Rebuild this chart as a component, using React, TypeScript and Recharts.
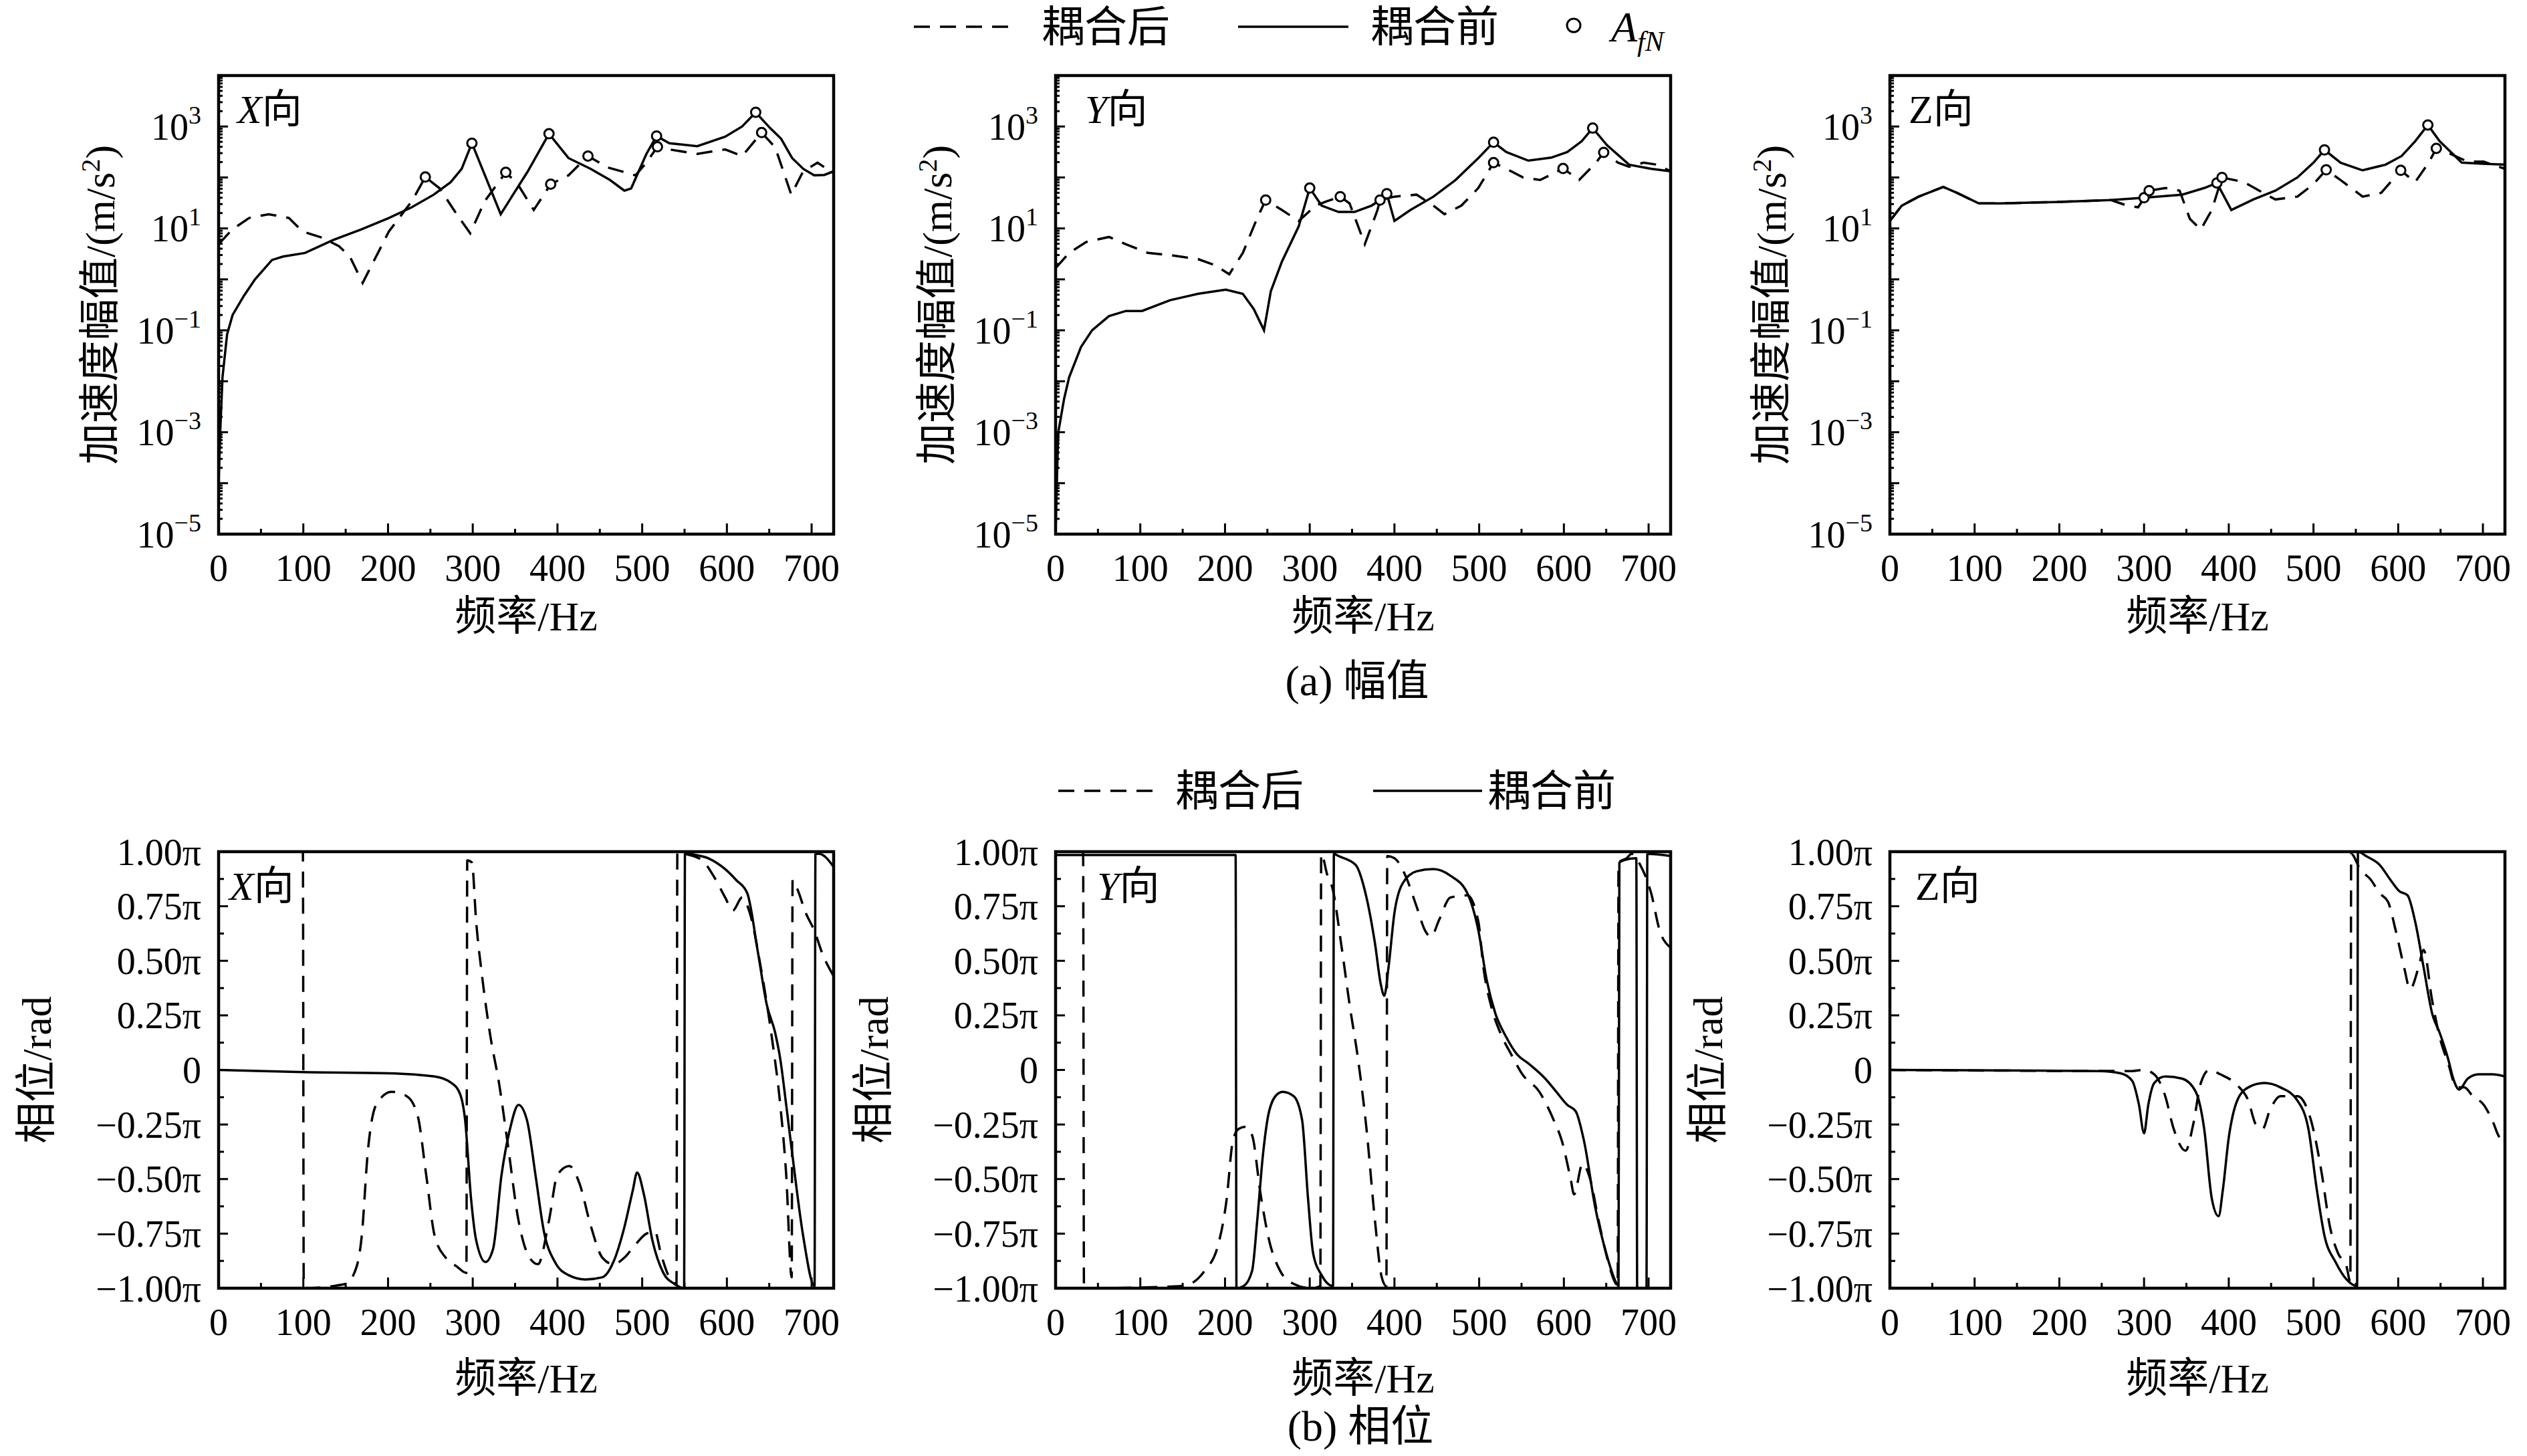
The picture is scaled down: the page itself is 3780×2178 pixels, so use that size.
import { ComposedChart, Line, Scatter, XAxis, YAxis, ReferenceArea } from 'recharts';

const FONT = "'Liberation Serif', 'Times New Roman', 'Noto Sans CJK SC', serif";

// page layout (px)
const COLS = [327, 1579, 2827];
const PLOT_W = 920;
const AMP_TOP = 113;
const AMP_H = 686;
const PH_TOP = 1274;
const PH_H = 653;
const PAD_L = 320;
const PAD_T = 60;
const PAD_R = 30;
const PAD_B = 180;
const F_MAX = 726;

// ticks
const freqTicks = [0, 50, 100, 150, 200, 250, 300, 350, 400, 450, 500, 550, 600, 650, 700];
const decades = [-5, -4, -3, -2, -1, 0, 1, 2, 3, 4];
const ampLabelExps = [-5, -3, -1, 1, 3];
const ampTicks = decades.flatMap((e) => (e === 4 ? [1e4] : [1, 2, 3, 4, 5, 6, 7, 8, 9].map((m) => m * 10 ** e)));
const phaseTicks = [-1, -0.875, -0.75, -0.625, -0.5, -0.375, -0.25, -0.125, 0, 0.125, 0.25, 0.375, 0.5, 0.625, 0.75, 0.875, 1];

// amplitude, m/s^2  [freq Hz, value]
const xAmpBefore = [
  [0, 1e-4], [2, 0.0011], [4.6, 0.012], [10, 0.083], [16.5, 0.2], [30, 0.48], [43, 1.0], [63, 2.4], [76, 2.8],
  [102, 3.3], [135, 5.9], [168, 9.5], [201, 16], [228, 26], [254, 46], [274, 81], [287, 148], [299, 470],
  [333, 19], [365, 132], [390, 720], [413, 240], [439, 148], [462, 89], [479, 55], [487, 61], [505, 290],
  [517, 650], [532, 470], [565, 410], [598, 630], [618, 1000], [634, 1900], [651, 930], [664, 575],
  [677, 240], [690, 148], [703, 110], [715, 112], [726, 132],
];
const xAmpAfter = [
  [0, 4.9], [16, 9.5], [36, 16], [59, 19], [83, 16], [99, 8.7], [122, 6.6], [142, 4.5], [155, 2.8],
  [170, 0.85], [201, 8.7], [228, 34], [244, 102], [261, 61], [281, 19], [297, 8], [314, 34], [339, 126],
  [353, 74], [372, 23], [392, 74], [413, 110], [436, 263], [459, 158], [492, 110], [505, 195], [518, 400],
  [532, 355], [565, 290], [598, 355], [618, 263], [641, 760], [657, 390], [676, 46], [690, 132],
  [707, 195], [726, 120],
];
const xAfn = [[244, 102], [299, 470], [339, 126], [390, 720], [392, 74], [436, 263], [517, 650], [518, 400], [634, 1900], [641, 760]];

const yAmpBefore = [
  [0, 1.1e-5], [3, 0.00095], [10, 0.0045], [16, 0.012], [30, 0.047], [43, 0.1], [63, 0.19], [83, 0.24],
  [102, 0.24], [135, 0.39], [168, 0.52], [201, 0.63], [221, 0.52], [234, 0.26], [246, 0.1], [254, 0.58],
  [267, 2.2], [287, 11], [300, 62], [314, 28], [334, 21], [353, 21], [373, 28], [383, 36], [391, 48],
  [400, 14], [419, 23], [446, 42], [472, 89], [499, 240], [517, 490], [532, 316], [558, 214], [585, 245],
  [604, 316], [621, 513], [634, 930], [651, 427], [677, 178], [703, 148], [726, 132],
];
const yAmpAfter = [
  [0, 1.66], [16, 3.3], [36, 5.4], [63, 6.8], [83, 4.9], [109, 3.3], [135, 3.0], [168, 2.5], [188, 1.9],
  [205, 1.26], [221, 3.3], [238, 16], [248, 36], [267, 23], [287, 14], [307, 28], [320, 34], [336, 42],
  [347, 31], [365, 4.9], [380, 23], [383, 36], [400, 42], [426, 46], [446, 28], [459, 19], [479, 28],
  [499, 62], [517, 195], [532, 148], [552, 100], [572, 89], [599, 150], [618, 89], [638, 195], [647, 310],
  [664, 195], [677, 162], [694, 195], [710, 178], [726, 132],
];
const yAfn = [[248, 36], [300, 62], [336, 42], [383, 36], [391, 48], [517, 490], [517, 195], [599, 150], [634, 930], [647, 310]];

const zAmpBefore = [
  [0, 14], [14, 28], [34, 42], [63, 65], [79, 50], [105, 31], [131, 31], [196, 33], [261, 36], [300, 40],
  [345, 46], [371, 62], [386, 78], [403, 23], [429, 37], [455, 55], [481, 100], [500, 195], [513, 347],
  [532, 195], [558, 138], [585, 178], [604, 263], [620, 513], [635, 1070], [649, 513], [675, 195],
  [701, 186], [726, 178],
];
const zAmpAfter = [
  [0, 14], [14, 28], [34, 42], [63, 65], [79, 50], [105, 31], [131, 31], [196, 33], [261, 36], [280, 28],
  [293, 26], [306, 55], [325, 62], [342, 55], [354, 15.5], [367, 9.5], [380, 23], [392, 100], [418, 81],
  [436, 55], [455, 37], [481, 42], [500, 74], [515, 141], [532, 89], [558, 42], [580, 50], [603, 138],
  [620, 81], [636, 195], [645, 372], [662, 288], [682, 204], [701, 204], [726, 148],
];
const zAfn = [[300, 40], [306, 55], [386, 78], [392, 100], [513, 347], [515, 141], [603, 138], [635, 1070], [645, 372]];

// phase, in units of pi  [freq Hz, value]
const xPhBefore = [
  [0, 0], [100, -0.01], [200, -0.015], [255, -0.03], [275, -0.06], [285, -0.11], [291, -0.23], [298, -0.59],
  [304, -0.78], [315, -0.88], [324, -0.82], [334, -0.48], [344, -0.27], [354, -0.16], [364, -0.23],
  [374, -0.48], [384, -0.74], [397, -0.88], [413, -0.94], [433, -0.96], [453, -0.95], [466, -0.88],
  [479, -0.72], [489, -0.55], [494, -0.47], [502, -0.57], [512, -0.78], [525, -0.93], [538, -0.98],
  [549.5, -1.0], [550.5, 1.0], [558, 0.99], [578, 0.97], [598, 0.92], [611, 0.87], [624, 0.81], [637, 0.53],
  [647, 0.3], [657, 0.17], [663, 0.05], [670, -0.16], [677, -0.38], [690, -0.76], [703.5, -0.99],
  [704.5, 0.99], [709, 0.99], [726, 0.93],
];
const xPhAfter = [
  [0, 1.0], [99.5, 1.0], [100.5, -1.0], [150, -0.98], [163, -0.9], [169, -0.76], [176, -0.38], [186, -0.16],
  [204, -0.1], [222, -0.12], [235, -0.21], [245, -0.48], [255, -0.76], [268, -0.86], [281, -0.9],
  [292.5, -0.93], [293.5, 0.96], [299, 0.95], [304, 0.68], [311, 0.43], [321, 0.15], [331, -0.06],
  [341, -0.33], [354, -0.69], [367, -0.86], [377, -0.89], [390, -0.69], [400, -0.48], [414, -0.44],
  [426, -0.52], [439, -0.71], [453, -0.86], [466, -0.89], [479, -0.86], [492, -0.8], [505, -0.75],
  [515, -0.74], [522, -0.84], [532, -0.95], [540.5, -0.98], [541.5, 1.0], [551, 0.99], [571, 0.96],
  [584, 0.89], [598, 0.79], [607, 0.73], [618, 0.79], [627, 0.72], [640, 0.47], [653, 0.15], [663, -0.16],
  [670, -0.48], [676.5, -0.95], [677.5, 0.87], [683, 0.83], [693, 0.72], [703, 0.64], [713, 0.53], [726, 0.43],
];
const yPhBefore = [
  [0, 0.985], [212.5, 0.985], [213.5, -1.0], [222, -0.99], [232, -0.92], [238, -0.69], [245, -0.38],
  [252, -0.19], [262, -0.11], [268, -0.1], [281, -0.12], [291, -0.23], [298, -0.59], [304, -0.84],
  [314, -0.94], [327.5, -0.99], [328.5, 0.99], [334, 0.98], [354, 0.94], [367, 0.79], [377, 0.58],
  [384, 0.39], [388, 0.34], [393, 0.47], [400, 0.72], [409, 0.85], [426, 0.91], [446, 0.92], [466, 0.89],
  [486, 0.81], [499, 0.64], [509, 0.41], [519, 0.26], [532, 0.15], [545, 0.07], [558, 0.03], [578, -0.04],
  [591, -0.1], [604, -0.16], [614, -0.19], [624, -0.33], [637, -0.63], [650, -0.84], [660, -0.96],
  [664.5, -0.99], [665.5, 0.95], [670, 0.96], [685.5, 0.97], [686.5, -1.0], [697.5, -1.0], [698.5, 0.99],
  [726, 0.98],
];
const yPhAfter = [
  [0, 1.0], [32.5, 1.0], [33.5, -1.0], [150, -0.99], [176, -0.92], [192, -0.8], [202, -0.59], [209, -0.33],
  [216, -0.27], [224, -0.26], [232, -0.3], [242, -0.57], [252, -0.78], [265, -0.92], [281, -0.98],
  [301, -1.0], [312.5, -0.99], [313.5, 0.99], [321, 0.89], [327, 0.83], [337, 0.58], [347, 0.3], [357, 0.05],
  [367, -0.27], [377, -0.69], [385, -0.95], [390.5, -0.99], [391.5, 0.98], [400, 0.97], [413, 0.89],
  [426, 0.75], [436, 0.64], [443, 0.61], [453, 0.69], [466, 0.79], [486, 0.8], [499, 0.68], [505, 0.47],
  [515, 0.28], [525, 0.17], [538, 0.07], [551, -0.02], [571, -0.1], [588, -0.23], [598, -0.33], [608, -0.5],
  [612, -0.57], [622, -0.43], [631, -0.5], [641, -0.69], [651, -0.86], [660, -0.97], [663.5, -0.99],
  [664.5, 0.95], [674, 0.97], [680, 0.99], [690, 0.94], [703, 0.81], [713, 0.64], [726, 0.56],
];
const zPhBefore = [
  [0, 0], [248, -0.005], [273, -0.016], [286, -0.05], [294, -0.16], [300, -0.29], [305, -0.16], [312, -0.06],
  [325, -0.03], [345, -0.04], [361, -0.1], [371, -0.27], [380, -0.59], [388, -0.67], [393, -0.55],
  [400, -0.31], [410, -0.14], [423, -0.08], [442, -0.06], [461, -0.08], [481, -0.14], [494, -0.27],
  [504, -0.55], [513, -0.76], [526, -0.88], [539, -0.96], [551.5, -0.99], [552.5, 1.0], [562, 0.98],
  [578, 0.94], [591, 0.87], [601, 0.82], [611, 0.8], [620, 0.68], [630, 0.47], [640, 0.26], [649, 0.17],
  [659, 0.05], [665, -0.04], [672, -0.09], [682, -0.04], [695, -0.02], [711, -0.02], [726, -0.03],
];
const zPhAfter = [
  [0, 0], [286, -0.005], [299, 0], [312, -0.02], [325, -0.12], [335, -0.27], [349, -0.37], [358, -0.25],
  [367, -0.06], [377, 0], [390, -0.02], [410, -0.07], [423, -0.14], [432, -0.25], [440, -0.27], [448, -0.19],
  [461, -0.12], [481, -0.12], [497, -0.23], [510, -0.48], [519, -0.71], [529, -0.84], [539, -0.9],
  [543.5, -0.97], [544.5, 0.99], [555, 0.92], [568, 0.87], [578, 0.81], [588, 0.77], [597, 0.64],
  [607, 0.47], [614, 0.37], [624, 0.47], [630, 0.55], [640, 0.32], [649, 0.15], [659, 0.03], [669, -0.08],
  [678, -0.08], [688, -0.12], [701, -0.16], [711, -0.23], [720, -0.31], [726, -0.32],
];

const toPts = (rows: number[][]) => rows.map(([f, a]) => ({ f, a }));

const isDecade = (v: number) => Math.abs(Math.log10(v) - Math.round(Math.log10(v))) < 1e-9;

function FreqTick({ x, payload, bottom }: any) {
  const v = payload.value;
  const major = v % 100 === 0;
  return (
    <g>
      <line x1={x} x2={x} y1={bottom} y2={bottom - (major ? 16 : 8)} stroke="#000" strokeWidth={3} />
      {major && (
        <text x={x} y={bottom + 50} dy="0.35em" textAnchor="middle" fontSize={56} fontFamily={FONT} fill="#000">
          {v}
        </text>
      )}
    </g>
  );
}

function AmpTick({ y, payload }: any) {
  const v = payload.value;
  const dec = isDecade(v);
  const e = Math.round(Math.log10(v));
  const show = dec && ampLabelExps.includes(e);
  return (
    <g>
      <line x1={PAD_L} x2={PAD_L + (dec ? 14 : 6)} y1={y} y2={y} stroke="#000" strokeWidth={3} />
      {show && (
        <text x={PAD_L - 26} y={y} dy="0.35em" textAnchor="end" fontSize={56} fontFamily={FONT} fill="#000">
          <tspan>10</tspan>
          <tspan dy={-24} fontSize={38}>{e < 0 ? `\u2212${-e}` : `${e}`}</tspan>
        </text>
      )}
    </g>
  );
}

function PhaseTick({ y, payload }: any) {
  const v = payload.value;
  const major = Math.abs(v * 4 - Math.round(v * 4)) < 1e-9;
  const label = v === 0 ? '0' : `${v < 0 ? '\u2212' : ''}${Math.abs(v).toFixed(2)}\u03c0`;
  return (
    <g>
      <line x1={PAD_L} x2={PAD_L + (major ? 14 : 8)} y1={y} y2={y} stroke="#000" strokeWidth={3} />
      {major && (
        <text x={PAD_L - 26} y={y} dy="0.35em" textAnchor="end" fontSize={56} fontFamily={FONT} fill="#000">
          {label}
        </text>
      )}
    </g>
  );
}

const ring = (p: any) => <circle cx={p.cx} cy={p.cy} r={7} fill="#fff" stroke="#000" strokeWidth={3} />;

function Panel({ left, top, h, log, before, after, marks }: any) {
  const bottom = PAD_T + h;
  const yDomain = log ? [1e-5, 1e4] : [-1, 1];
  const curve = log ? 'linear' : 'monotone';
  return (
    <div style={{ position: 'absolute', left: left - PAD_L, top: top - PAD_T }}>
      <ComposedChart
        width={PAD_L + PLOT_W + PAD_R}
        height={PAD_T + h + PAD_B}
        margin={{ top: PAD_T, right: PAD_R, bottom: 0, left: 0 }}
      >
        <XAxis
          dataKey="f"
          type="number"
          domain={[0, F_MAX]}
          ticks={freqTicks}
          interval={0}
          allowDataOverflow
          axisLine={false}
          tickLine={false}
          height={PAD_B}
          tick={(p: any) => <FreqTick {...p} bottom={bottom} />}
        />
        <YAxis
          dataKey="a"
          type="number"
          scale={log ? 'log' : 'linear'}
          domain={yDomain}
          ticks={log ? ampTicks : phaseTicks}
          interval={0}
          allowDataOverflow
          axisLine={false}
          tickLine={false}
          width={PAD_L}
          tick={(p: any) => (log ? <AmpTick {...p} /> : <PhaseTick {...p} />)}
        />
        <Line
          data={toPts(after)}
          dataKey="a"
          type={curve}
          stroke="#000"
          strokeWidth={3.5}
          strokeDasharray="24 15"
          dot={false}
          isAnimationActive={false}
        />
        <Line
          data={toPts(before)}
          dataKey="a"
          type={curve}
          stroke="#000"
          strokeWidth={3.5}
          dot={false}
          isAnimationActive={false}
        />
        {marks && <Scatter data={toPts(marks)} dataKey="a" shape={ring} isAnimationActive={false} />}
        <ReferenceArea
          x1={0}
          x2={F_MAX}
          y1={yDomain[0]}
          y2={yDomain[1]}
          fill="none"
          fillOpacity={0}
          stroke="#000"
          strokeWidth={4.5}
          ifOverflow="visible"
        />
      </ComposedChart>
    </div>
  );
}

const dirs = ['X', 'Y', 'Z'];
const ampLabelOff = [28, 44, 28];
const phLabelOff = [16, 62, 38];

export default function App() {
  const ampSets = [
    [xAmpBefore, xAmpAfter, xAfn],
    [yAmpBefore, yAmpAfter, yAfn],
    [zAmpBefore, zAmpAfter, zAfn],
  ];
  const phSets = [
    [xPhBefore, xPhAfter],
    [yPhBefore, yPhAfter],
    [zPhBefore, zPhAfter],
  ];
  const t = { fontFamily: FONT, fill: '#000' } as const;
  return (
    <div style={{ position: 'absolute', left: 0, top: 0, width: 3780, height: 2178, background: '#fff', overflow: 'hidden' }}>
      {COLS.map((c, i) => (
        <Panel key={`a${i}`} left={c} top={AMP_TOP} h={AMP_H} log before={ampSets[i][0]} after={ampSets[i][1]} marks={ampSets[i][2]} />
      ))}
      {COLS.map((c, i) => (
        <Panel key={`p${i}`} left={c} top={PH_TOP} h={PH_H} log={false} before={phSets[i][0]} after={phSets[i][1]} />
      ))}
      <svg width={3780} height={2178} style={{ position: 'absolute', left: 0, top: 0, pointerEvents: 'none' }}>
        {/* top legend */}
        <line x1={1367} x2={1517} y1={40} y2={40} stroke="#000" strokeWidth={3.5} strokeDasharray="24 15" />
        <text x={1558} y={40} dy="0.35em" fontSize={64} {...t}>耦合后</text>
        <line x1={1852} x2={2017} y1={40} y2={40} stroke="#000" strokeWidth={3.5} />
        <text x={2050} y={40} dy="0.35em" fontSize={64} {...t}>耦合前</text>
        <circle cx={2354} cy={38} r={10} fill="#fff" stroke="#000" strokeWidth={3} />
        <text x={2410} y={40} dy="0.35em" fontSize={64} fontStyle="italic" {...t}>
          <tspan>A</tspan>
          <tspan dy={14} fontSize={42}>fN</tspan>
        </text>
        {/* bottom legend */}
        <line x1={1583} x2={1729} y1={1183} y2={1183} stroke="#000" strokeWidth={3.5} strokeDasharray="24 15" />
        <text x={1758} y={1183} dy="0.35em" fontSize={64} {...t}>耦合后</text>
        <line x1={2054} x2={2217} y1={1183} y2={1183} stroke="#000" strokeWidth={3.5} />
        <text x={2225} y={1183} dy="0.35em" fontSize={64} {...t}>耦合前</text>
        {/* captions */}
        <text x={2030} y={1018} dy="0.35em" textAnchor="middle" fontSize={64} {...t}>(a) 幅值</text>
        <text x={2035} y={2133} dy="0.35em" textAnchor="middle" fontSize={64} {...t}>(b) 相位</text>
        {COLS.map((c, i) => (
          <g key={`l${i}`}>
            <text x={c + PLOT_W / 2} y={AMP_TOP + AMP_H + 122} dy="0.35em" textAnchor="middle" fontSize={62} {...t}>频率/Hz</text>
            <text x={c + PLOT_W / 2} y={PH_TOP + PH_H + 134} dy="0.35em" textAnchor="middle" fontSize={62} {...t}>频率/Hz</text>
            <text
              transform={`translate(${c - 178},${AMP_TOP + AMP_H / 2}) rotate(-90)`}
              dy="0.35em"
              textAnchor="middle"
              fontSize={62}
              {...t}
            >
              <tspan>加速度幅值/(m/s</tspan>
              <tspan dy={-22} fontSize={40}>2</tspan>
              <tspan dy={22}>)</tspan>
            </text>
            <text
              transform={`translate(${c - 273},${PH_TOP + PH_H / 2}) rotate(-90)`}
              dy="0.35em"
              textAnchor="middle"
              fontSize={62}
              {...t}
            >
              相位/rad
            </text>
            <text x={c + ampLabelOff[i]} y={AMP_TOP + 50} dy="0.35em" fontSize={60} {...t}>
              <tspan fontStyle={dirs[i] === 'Z' ? 'normal' : 'italic'}>{dirs[i]}</tspan>
              <tspan>向</tspan>
            </text>
            <text x={c + phLabelOff[i]} y={PH_TOP + 51} dy="0.35em" fontSize={60} {...t}>
              <tspan fontStyle={dirs[i] === 'Z' ? 'normal' : 'italic'}>{dirs[i]}</tspan>
              <tspan>向</tspan>
            </text>
          </g>
        ))}
      </svg>
    </div>
  );
}
